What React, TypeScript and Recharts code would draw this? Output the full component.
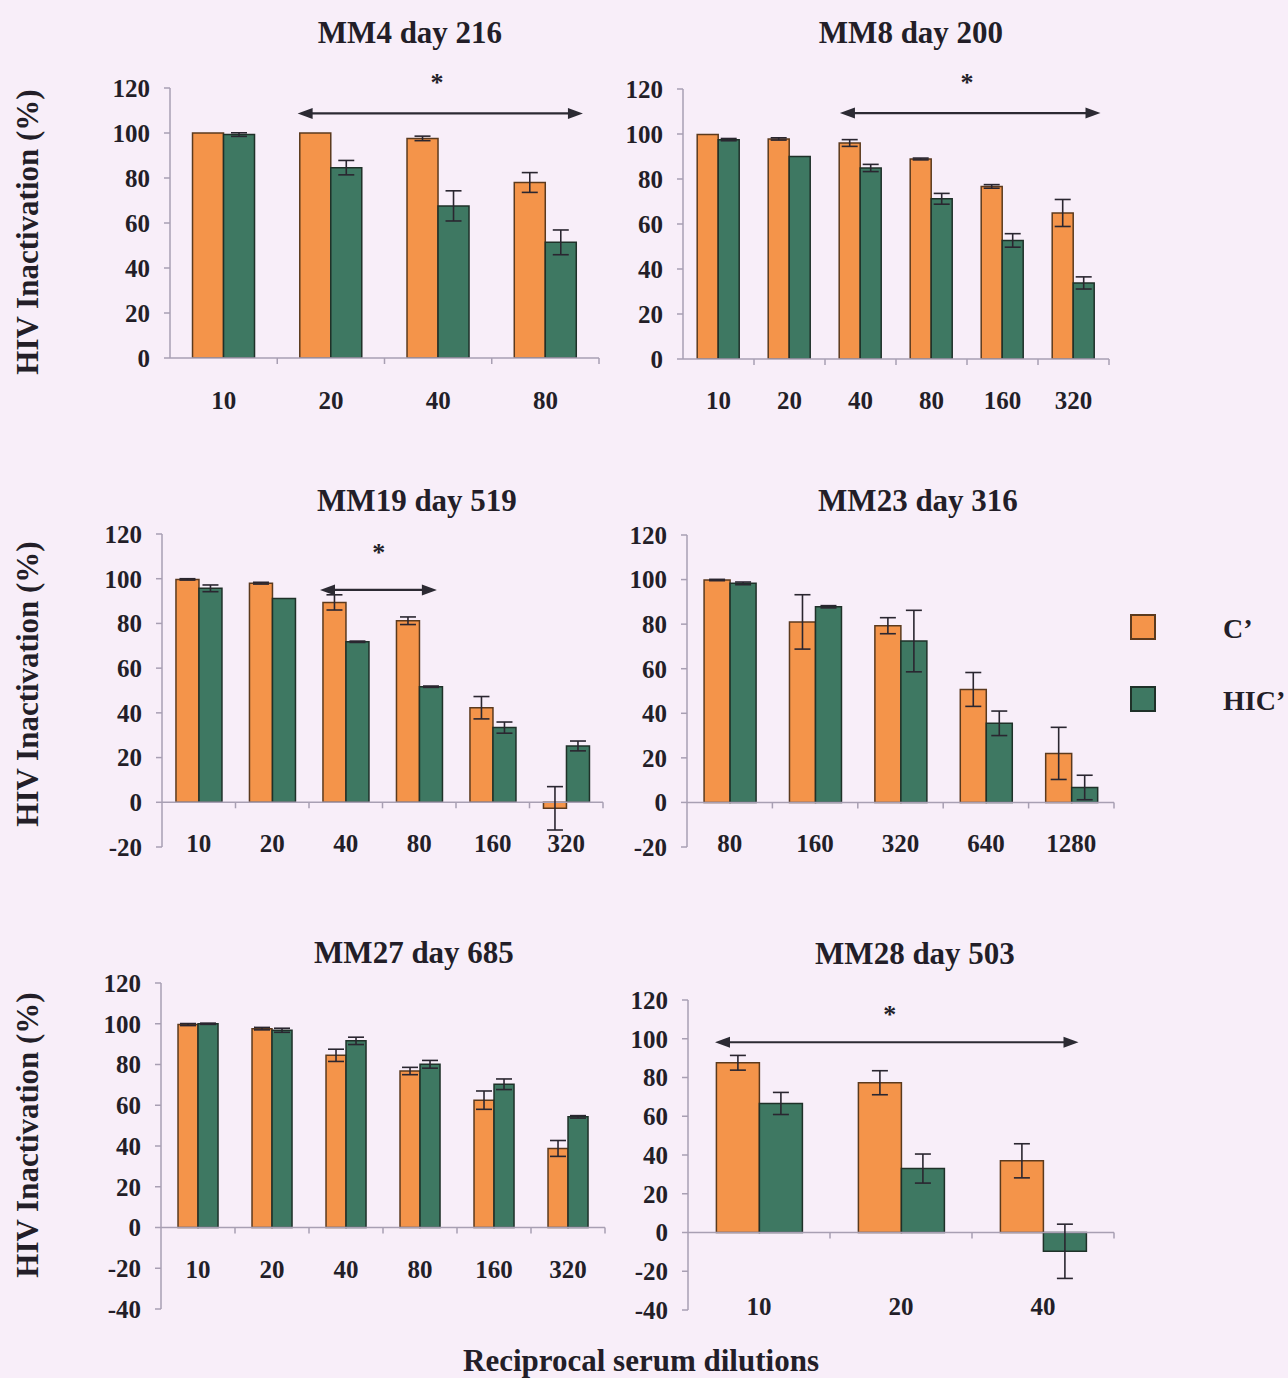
import { Bar, BarChart, ErrorBar, ReferenceLine, XAxis, YAxis } from 'recharts';

const FONT = '"Liberation Serif", "Times New Roman", serif';
const INK = '#231e28';
const AXIS = '#a89fb3';
const PAGE_BG = '#f8eef9';

const SERIES = [
  { key: 'c', sd: 'cSd', name: 'C’', fill: '#f4944a', stroke: '#5b3a1e' },
  { key: 'hic', sd: 'hicSd', name: 'HIC’', fill: '#3e7862', stroke: '#1f3129' },
] as const;

const Y_TICKS_0 = [0, 20, 40, 60, 80, 100, 120];
const Y_TICKS_20 = [-20, 0, 20, 40, 60, 80, 100, 120];
const Y_TICKS_40 = [-40, -20, 0, 20, 40, 60, 80, 100, 120];

// % inactivation, mean and SD, with active (C') and heat-inactivated (HIC') complement
const MM4_DILUTIONS = ['10', '20', '40', '80'];
const MM4_C = [100, 100, 97.6, 78];
const MM4_C_SD = [0, 0, 1, 4.4];
const MM4_HIC = [99.3, 84.6, 67.6, 51.4];
const MM4_HIC_SD = [0.8, 3.2, 6.7, 5.5];

const MM8_DILUTIONS = ['10', '20', '40', '80', '160', '320'];
const MM8_C = [99.8, 97.8, 96, 88.9, 76.7, 64.9];
const MM8_C_SD = [0, 0.5, 1.5, 0.4, 0.8, 6];
const MM8_HIC = [97.5, 90, 84.9, 71.2, 52.7, 33.8];
const MM8_HIC_SD = [0.5, 0, 1.6, 2.4, 3, 2.7];

const MM19_DILUTIONS = ['10', '20', '40', '80', '160', '320'];
const MM19_C = [99.7, 98, 89.4, 81.2, 42.3, -2.7];
const MM19_C_SD = [0.3, 0.4, 3.4, 1.7, 5, 9.7];
const MM19_HIC = [95.7, 91.2, 71.8, 51.7, 33.4, 25.2];
const MM19_HIC_SD = [1.5, 0, 0.3, 0.3, 2.5, 2.2];

const MM23_DILUTIONS = ['80', '160', '320', '640', '1280'];
const MM23_C = [99.8, 81, 79.3, 50.7, 22];
const MM23_C_SD = [0.3, 12.2, 3.6, 7.6, 11.7];
const MM23_HIC = [98.3, 87.8, 72.4, 35.5, 6.7];
const MM23_HIC_SD = [0.6, 0.5, 13.8, 5.5, 5.5];

const MM27_DILUTIONS = ['10', '20', '40', '80', '160', '320'];
const MM27_C = [99.6, 97.6, 84.5, 76.8, 62.5, 38.8];
const MM27_C_SD = [0.5, 0.6, 3, 1.8, 4.5, 3.9];
const MM27_HIC = [100, 96.8, 91.6, 80.1, 70.3, 54.3];
const MM27_HIC_SD = [0.3, 1, 1.8, 1.9, 2.6, 0.6];

const MM28_DILUTIONS = ['10', '20', '40'];
const MM28_C = [87.6, 77.3, 37];
const MM28_C_SD = [3.8, 6.2, 8.8];
const MM28_HIC = [66.6, 33, -9.7];
const MM28_HIC_SD = [5.7, 7.5, 14];

// significance bracket: from/to in dilution slots (0 = left axis), y in %
type Arrow = { from: number; to: number; y: number };
type Star = { x: number; y: number };

type PanelDef = {
  title: string;
  dilutions: string[];
  c: number[];
  cSd: number[];
  hic: number[];
  hicSd: number[];
  yTicks: number[];
  // pixel layout: y-axis x, plot right edge, y of top tick, y of bottom tick, y of category labels
  axisX: number;
  rightX: number;
  topY: number;
  bottomY: number;
  labelY: number;
  titleX: number;
  titleY: number;
  gap: string;
  arrow?: Arrow;
  star?: Star;
};

const PANELS: PanelDef[] = [
  {
    title: 'MM4 day 216',
    dilutions: MM4_DILUTIONS, c: MM4_C, cSd: MM4_C_SD, hic: MM4_HIC, hicSd: MM4_HIC_SD,
    yTicks: Y_TICKS_0,
    axisX: 170, rightX: 599, topY: 88, bottomY: 358, labelY: 398, titleX: 410, titleY: 32, gap: '21%',
    arrow: { from: 1.19, to: 3.85, y: 108.7 },
    star: { x: 2.49, y: 122.5 },
  },
  {
    title: 'MM8 day 200',
    dilutions: MM8_DILUTIONS, c: MM8_C, cSd: MM8_C_SD, hic: MM8_HIC, hicSd: MM8_HIC_SD,
    yTicks: Y_TICKS_0,
    axisX: 683, rightX: 1109, topY: 89, bottomY: 359, labelY: 398, titleX: 911, titleY: 32, gap: '20%',
    arrow: { from: 2.21, to: 5.88, y: 109.3 },
    star: { x: 4.0, y: 123 },
  },
  {
    title: 'MM19 day 519',
    dilutions: MM19_DILUTIONS, c: MM19_C, cSd: MM19_C_SD, hic: MM19_HIC, hicSd: MM19_HIC_SD,
    yTicks: Y_TICKS_20,
    axisX: 162, rightX: 603, topY: 534, bottomY: 847, labelY: 841, titleX: 417, titleY: 500, gap: '19%',
    arrow: { from: 2.15, to: 3.74, y: 95 },
    star: { x: 2.95, y: 111.7 },
  },
  {
    title: 'MM23 day 316',
    dilutions: MM23_DILUTIONS, c: MM23_C, cSd: MM23_C_SD, hic: MM23_HIC, hicSd: MM23_HIC_SD,
    yTicks: Y_TICKS_20,
    axisX: 687, rightX: 1114, topY: 535, bottomY: 847, labelY: 841, titleX: 918, titleY: 500, gap: '20%',
  },
  {
    title: 'MM27 day 685',
    dilutions: MM27_DILUTIONS, c: MM27_C, cSd: MM27_C_SD, hic: MM27_HIC, hicSd: MM27_HIC_SD,
    yTicks: Y_TICKS_40,
    axisX: 161, rightX: 605, topY: 983, bottomY: 1309, labelY: 1267, titleX: 414, titleY: 952, gap: '23%',
  },
  {
    title: 'MM28 day 503',
    dilutions: MM28_DILUTIONS, c: MM28_C, cSd: MM28_C_SD, hic: MM28_HIC, hicSd: MM28_HIC_SD,
    yTicks: Y_TICKS_40,
    axisX: 688, rightX: 1114, topY: 1000, bottomY: 1310, labelY: 1304, titleX: 915, titleY: 953, gap: '20%',
    arrow: { from: 0.19, to: 2.75, y: 98.2 },
    star: { x: 1.42, y: 112.7 },
  },
];

const Y_AXIS_W = 100;
const TOP_PAD = 40;
const RIGHT_PAD = 10;
const X_AXIS_H = 60;
const ARROW_INK = '#2c2a33';

function DilutionTick(props: any) {
  const { x, y, payload, dy } = props;
  return (
    <text
      x={x}
      y={y + dy}
      textAnchor="middle"
      dominantBaseline="central"
      fontFamily={FONT}
      fontWeight="bold"
      fontSize={25}
      fill={INK}
    >
      {payload.value}
    </text>
  );
}

// horizontal axis drawn through zero, with tick marks between dilution groups
function ZeroAxis(props: any) {
  const { x1, y1, x2, n } = props;
  const step = (x2 - x1) / n;
  return (
    <g>
      <line x1={x1} y1={y1} x2={x2} y2={y1} stroke={AXIS} strokeWidth={1.5} />
      {Array.from({ length: n }, (_, i) => (
        <line
          key={i}
          x1={x1 + (i + 1) * step}
          x2={x1 + (i + 1) * step}
          y1={y1}
          y2={y1 + 6}
          stroke={AXIS}
          strokeWidth={1.5}
        />
      ))}
    </g>
  );
}

// double-headed arrow spanning the dilutions that differ significantly
function DoubleArrow(props: any) {
  const { x1: left, y1: y, x2: right, n, from, to } = props;
  const slot = (right - left) / n;
  const xa = left + from * slot;
  const xb = left + to * slot;
  const head = 15;
  const half = 5.5;
  return (
    <g>
      <line x1={xa + head - 2} y1={y} x2={xb - head + 2} y2={y} stroke={ARROW_INK} strokeWidth={2.2} />
      <polygon points={`${xa},${y} ${xa + head},${y - half} ${xa + head},${y + half}`} fill={ARROW_INK} />
      <polygon points={`${xb},${y} ${xb - head},${y - half} ${xb - head},${y + half}`} fill={ARROW_INK} />
    </g>
  );
}

function StarMark(props: any) {
  const { x1: left, y1: y, x2: right, n, at } = props;
  const cx = left + (at * (right - left)) / n;
  return (
    <text
      x={cx}
      y={y}
      textAnchor="middle"
      dominantBaseline="central"
      fontFamily={FONT}
      fontWeight="bold"
      fontSize={26}
      fill={INK}
    >
      *
    </text>
  );
}

function Panel({ p }: { p: PanelDef }) {
  const data = p.dilutions.map((d, i) => ({
    dilution: d,
    c: p.c[i],
    cSd: p.cSd[i],
    hic: p.hic[i],
    hicSd: p.hicSd[i],
  }));
  const n = p.dilutions.length;
  const yMin = p.yTicks[0];
  const width = Y_AXIS_W + (p.rightX - p.axisX) + RIGHT_PAD;
  const height = TOP_PAD + (p.bottomY - p.topY) + X_AXIS_H;
  const arrow = p.arrow;
  const star = p.star;

  return (
    <div style={{ position: 'absolute', left: p.axisX - Y_AXIS_W, top: p.topY - TOP_PAD }}>
      <BarChart
        width={width}
        height={height}
        data={data}
        margin={{ top: TOP_PAD, right: RIGHT_PAD, bottom: 0, left: 0 }}
        barCategoryGap={p.gap}
        barGap={0}
      >
        <XAxis
          dataKey="dilution"
          axisLine={false}
          tickLine={false}
          tickSize={0}
          height={X_AXIS_H}
          interval={0}
          tick={(props: any) => <DilutionTick {...props} dy={p.labelY - p.bottomY} />}
        />
        <YAxis
          domain={[yMin, 120]}
          ticks={p.yTicks}
          interval={0}
          allowDataOverflow
          width={Y_AXIS_W}
          axisLine={{ stroke: AXIS, strokeWidth: 1.5 }}
          tickLine={{ stroke: AXIS, strokeWidth: 1.5 }}
          tickSize={6}
          tickMargin={14}
          tick={{ fontFamily: FONT, fontWeight: 'bold', fontSize: 25, fill: INK }}
        />
        <ReferenceLine y={0} shape={(props: any) => <ZeroAxis {...props} n={n} />} />
        {SERIES.map((s) => (
          <Bar
            key={s.key}
            dataKey={s.key}
            name={s.name}
            fill={s.fill}
            stroke={s.stroke}
            strokeWidth={1.5}
            isAnimationActive={false}
          >
            <ErrorBar dataKey={s.sd} width={8} stroke="#2a2630" strokeWidth={1.6} isAnimationActive={false} />
          </Bar>
        ))}
        {arrow && (
          <ReferenceLine
            y={arrow.y}
            shape={(props: any) => <DoubleArrow {...props} n={n} from={arrow.from} to={arrow.to} />}
          />
        )}
        {star && (
          <ReferenceLine
            y={star.y}
            ifOverflow="visible"
            shape={(props: any) => <StarMark {...props} n={n} at={star.x} />}
          />
        )}
      </BarChart>
    </div>
  );
}

const Y_LABEL_CENTERS = [232, 684, 1135];

export default function App() {
  return (
    <div
      style={{
        position: 'absolute',
        left: 0,
        top: 0,
        width: 1288,
        height: 1378,
        background: PAGE_BG,
        overflow: 'hidden',
      }}
    >
      {PANELS.map((p) => (
        <Panel key={p.title} p={p} />
      ))}
      <svg
        width={1288}
        height={1378}
        style={{ position: 'absolute', left: 0, top: 0, pointerEvents: 'none' }}
        fontFamily={FONT}
        fontWeight="bold"
        fill={INK}
      >
        {PANELS.map((p) => (
          <text key={p.title} x={p.titleX} y={p.titleY} textAnchor="middle" dominantBaseline="central" fontSize={31}>
            {p.title}
          </text>
        ))}
        {Y_LABEL_CENTERS.map((cy) => (
          <text
            key={cy}
            x={0}
            y={0}
            transform={`translate(27 ${cy}) rotate(-90)`}
            textAnchor="middle"
            dominantBaseline="central"
            fontSize={31}
          >
            HIV Inactivation (%)
          </text>
        ))}
        <text x={641} y={1360} textAnchor="middle" dominantBaseline="central" fontSize={31}>
          Reciprocal serum dilutions
        </text>
        {SERIES.map((s, i) => (
          <g key={s.key}>
            <rect x={1131} y={615 + i * 72} width={24} height={24} fill={s.fill} stroke={s.stroke} strokeWidth={2} />
            <text x={1223} y={628 + i * 72} dominantBaseline="central" fontSize={28}>
              {s.name}
            </text>
          </g>
        ))}
      </svg>
    </div>
  );
}
